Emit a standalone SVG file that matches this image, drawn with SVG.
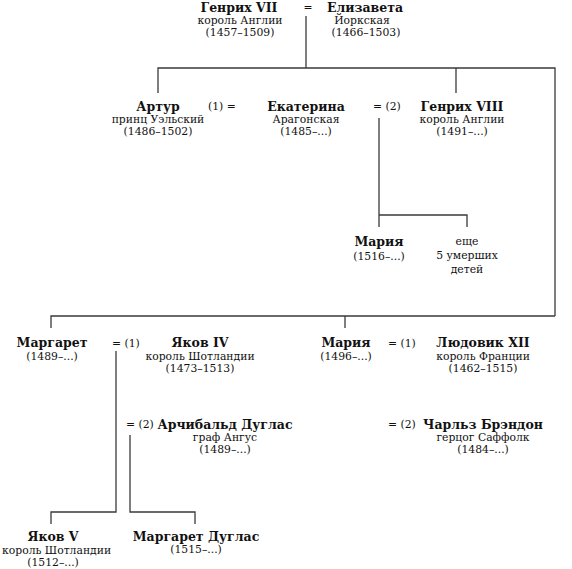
<svg xmlns="http://www.w3.org/2000/svg" width="572" height="569" viewBox="0 0 572 569">
<style>
text{font-family:"DejaVu Serif","Liberation Serif",serif;fill:#111;text-anchor:middle}
.n{font-weight:bold;font-size:12.5px}
.s{font-size:10.8px}
.m{font-size:10.8px;text-anchor:start}
.c path{fill:none;stroke:#3a3a3a;stroke-width:1.3}
</style>
<rect width="572" height="569" fill="#fff"/>
<g class="c" id="connectors">
<path d="M306,16V68"/>
<path d="M158,93V68H555V316"/>
<path d="M456,68V93"/>
<path d="M379,118V227M379,215H467V227"/>
<path d="M51,328V316H555M345,316V328"/>
<path d="M116,351V512H51V524"/>
<path d="M130,435V512H195V524"/>
</g>
<g id="henry7"><text class="n" x="239" y="12">Генрих VII</text><text class="s" x="240" y="24">король Англии</text><text class="s" x="240" y="36">(1457–1509)</text></g>
<text class="s" x="308" y="11">=</text>
<g id="elizabeth"><text class="n" x="365" y="12">Елизавета</text><text class="s" x="362" y="24">Йоркская</text><text class="s" x="366" y="36">(1466–1503)</text></g>
<g id="arthur"><text class="n" x="158" y="111">Артур</text><text class="s" x="158" y="123">принц Уэльский</text><text class="s" x="158" y="135">(1486–1502)</text></g>
<text class="m" x="208" y="110">(1) =</text>
<g id="catherine"><text class="n" x="306" y="111">Екатерина</text><text class="s" x="306" y="123">Арагонская</text><text class="s" x="306" y="135">(1485–...)</text></g>
<text class="m" x="373" y="110">= (2)</text>
<g id="henry8"><text class="n" x="462" y="111">Генрих VIII</text><text class="s" x="462" y="123">король Англии</text><text class="s" x="462" y="135">(1491–...)</text></g>
<g id="mary1516"><text class="n" x="379" y="246">Мария</text><text class="s" x="379" y="260">(1516–...)</text></g>
<g id="others"><text class="s" x="467" y="245">еще</text><text class="s" x="467" y="259">5 умерших</text><text class="s" x="467" y="273">детей</text></g>
<g id="margaret"><text class="n" x="52" y="347">Маргарет</text><text class="s" x="52" y="360">(1489–...)</text></g>
<text class="m" x="112" y="347">= (1)</text>
<g id="james4"><text class="n" x="200" y="347">Яков IV</text><text class="s" x="200" y="360">король Шотландии</text><text class="s" x="200" y="372">(1473–1513)</text></g>
<g id="mary1496"><text class="n" x="346" y="347">Мария</text><text class="s" x="346" y="360">(1496–...)</text></g>
<text class="m" x="388" y="347">= (1)</text>
<g id="louis12"><text class="n" x="483" y="347">Людовик XII</text><text class="s" x="483" y="360">король Франции</text><text class="s" x="483" y="372">(1462–1515)</text></g>
<text class="m" x="126" y="428">= (2)</text>
<g id="archibald"><text class="n" x="225" y="429">Арчибальд Дуглас</text><text class="s" x="225" y="441">граф Ангус</text><text class="s" x="225" y="453">(1489–...)</text></g>
<text class="m" x="388" y="428">= (2)</text>
<g id="brandon"><text class="n" x="483" y="429">Чарльз Брэндон</text><text class="s" x="483" y="441">герцог Саффолк</text><text class="s" x="483" y="453">(1484–...)</text></g>
<g id="james5"><text class="n" x="53" y="541">Яков V</text><text class="s" x="2" y="554" style="text-anchor:start">король Шотландии</text><text class="s" x="53" y="566">(1512–...)</text></g>
<g id="margaretdouglas"><text class="n" x="196" y="541">Маргарет Дуглас</text><text class="s" x="196" y="553">(1515–...)</text></g>
</svg>
